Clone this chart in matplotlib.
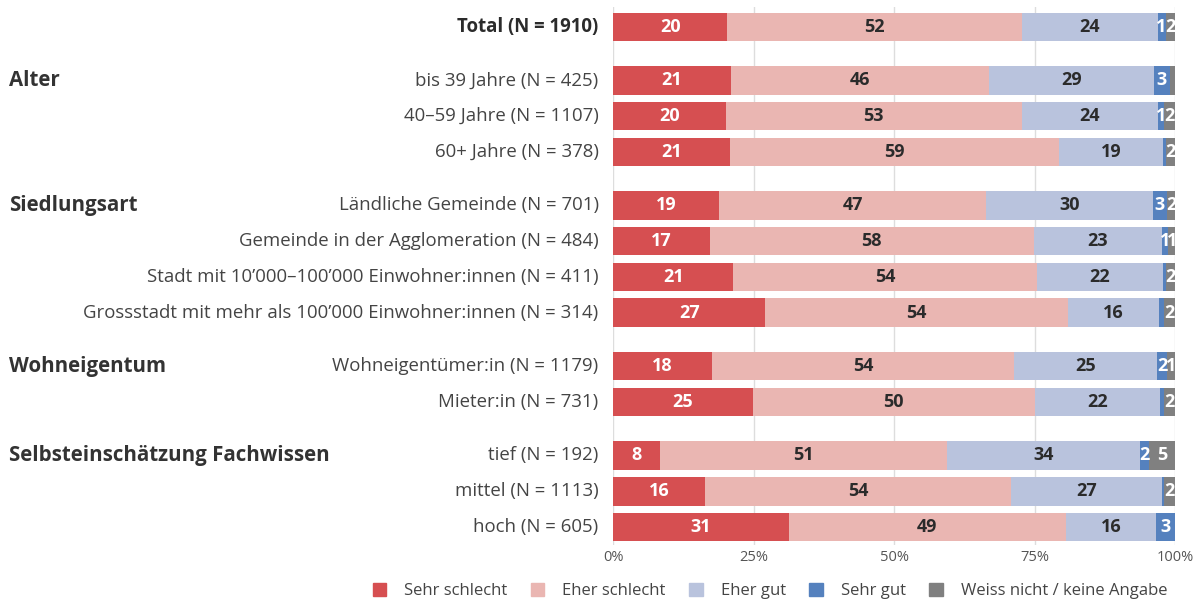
import matplotlib
matplotlib.use("Agg")
import matplotlib.pyplot as plt
from matplotlib.patches import Patch

plt.rcParams['font.family'] = ['Open Sans', 'DejaVu Sans']

# rows (top to bottom) and vertical positions incl. gaps between groups
labels = ["Total (N = 1910)",
          "bis 39 Jahre (N = 425)", "40–59 Jahre (N = 1107)", "60+ Jahre (N = 378)",
          "Ländliche Gemeinde (N = 701)", "Gemeinde in der Agglomeration (N = 484)",
          "Stadt mit 10’000–100’000 Einwohner:innen (N = 411)",
          "Grossstadt mit mehr als 100’000 Einwohner:innen (N = 314)",
          "Wohneigentümer:in (N = 1179)", "Mieter:in (N = 731)",
          "tief (N = 192)", "mittel (N = 1113)", "hoch (N = 605)"]
ypos = [0, 1.5, 2.5, 3.5, 5, 6, 7, 8, 9.5, 10.5, 12, 13, 14]

groups = ["Alter", "Siedlungsart", "Wohneigentum", "Selbsteinschätzung Fachwissen"]
group_y = [1.5, 5, 9.5, 12]

series = ["Sehr schlecht", "Eher schlecht", "Eher gut", "Sehr gut", "Weiss nicht / keine Angabe"]
sehr_schlecht = [20.3, 20.9, 20.0, 20.7, 18.9, 17.2, 21.4, 27.1, 17.6, 24.8, 8.3, 16.4, 31.2]
eher_schlecht = [52.4, 46.0, 52.7, 58.6, 47.4, 57.6, 54.0, 53.8, 53.8, 50.3, 51.1, 54.4, 49.4]
eher_gut = [24.2, 29.3, 24.2, 18.6, 29.7, 22.9, 22.4, 16.3, 25.4, 22.2, 34.3, 26.9, 16.0]
sehr_gut = [1.4, 2.9, 1.2, 0.4, 2.6, 1.1, 0.5, 0.9, 1.8, 0.7, 1.7, 0.4, 3.4]
weiss_nicht = [1.7, 0.9, 1.9, 1.7, 1.5, 1.2, 1.7, 1.9, 1.4, 2.0, 4.6, 1.9, 0.0]
data = [sehr_schlecht, eher_schlecht, eher_gut, sehr_gut, weiss_nicht]

colors = ["#D64F51", "#EAB6B2", "#B9C3DD", "#5581BE", "#808080"]
text_colors = ["white", "#2b2b2b", "#2b2b2b", "white", "white"]

fig = plt.figure(figsize=(11.93, 6.0), dpi=100)
ax = fig.add_axes([0.514, 0.092, 0.471, 0.896])

left = [0.0] * len(labels)
for vals, col, tcol, name in zip(data, colors, text_colors, series):
    ax.barh(ypos, vals, left=left, height=0.8, color=col, label=name, zorder=2)
    for y, l, v in zip(ypos, left, vals):
        if v >= 1.0:
            ax.text(l + v / 2, y, f"{v:.0f}", ha="center", va="center",
                    color=tcol, fontsize=13, fontweight="bold", zorder=3)
    left = [a + b for a, b in zip(left, vals)]

ax.set_xlim(0, 100)
ax.set_ylim(14.5, -0.55)
ax.set_xticks([0, 25, 50, 75, 100])
ax.set_xticklabels(["0%", "25%", "50%", "75%", "100%"], color="#555555", fontsize=10.5)
ax.tick_params(axis="x", length=0, pad=4)
ax.xaxis.grid(True, color="#dddddd", linewidth=1, zorder=0)
ax.set_yticks([])
for s in ax.spines.values():
    s.set_visible(False)

# category labels
for i, (lab, y) in enumerate(zip(labels, ypos)):
    ax.text(-2.6, y, lab, ha="right", va="center", fontsize=13.4,
            color="#2b2b2b" if i == 0 else "#444444",
            fontweight="bold" if i == 0 else "normal")

# group headings
for g, y in zip(groups, group_y):
    ax.text(-107.5, y, g, ha="left", va="center", fontsize=14.8,
            fontweight="bold", color="#333333")

handles = [Patch(color=c, label=s) for c, s in zip(colors, series)]
fig.legend(handles=handles, loc="center", bbox_to_anchor=(770 / 1193, 1 - 591 / 600),
           ncol=5, frameon=False, fontsize=12, handlelength=0.8, handleheight=0.8,
           columnspacing=1.4, handletextpad=1.1, labelcolor="#444444")

fig.savefig("out.png", dpi=100)
